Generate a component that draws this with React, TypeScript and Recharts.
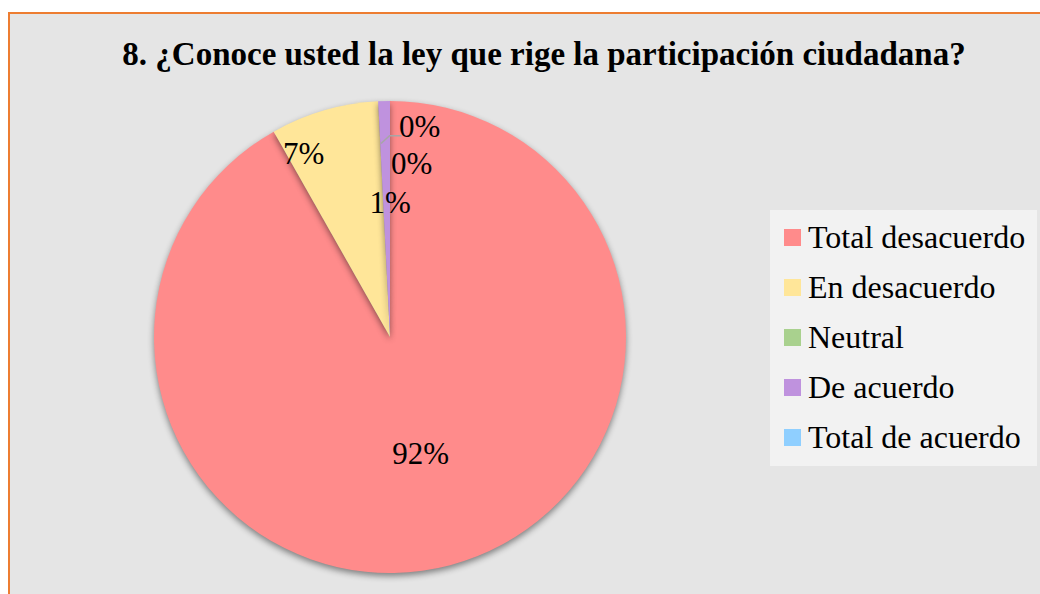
import React from "react";
import { PieChart, Pie, Cell, Legend } from "recharts";

const categories = ["Total desacuerdo", "En desacuerdo", "Neutral", "De acuerdo", "Total de acuerdo"];
const values = [91.8, 7.4, 0, 0.8, 0];
const colors = ["#ff8b8b", "#ffe699", "#a9d18e", "#bf92de", "#8fcfff"];
const title = "8. ¿Conoce usted la ley que rige la participación ciudadana?";

const data = categories.map((name, i) => ({ name, value: values[i] }));

// label placement: [radius factor, angle shift in degrees]
const labelPlace: [number, number][] = [
  [0.51, 0],
  [0.86, 9],
  [0.74, -10],
  [0.57, -1.5],
  [0.9, -8],
];

const RAD = Math.PI / 180;
const SERIF = "'Liberation Serif', 'Times New Roman', serif";

const renderLabel = (props: any) => {
  const { cx, cy, midAngle, outerRadius, percent, index } = props;
  const [f, shift] = labelPlace[index];
  const a = (midAngle + shift) * RAD;
  const r = outerRadius * f;
  const x = cx + r * Math.cos(a);
  const y = cy - r * Math.sin(a);
  const txt = `${Math.round(percent * 100)}%`;
  const els: any[] = [];
  if (index === 4) {
    const ea = midAngle * RAD;
    const ex = cx + outerRadius * 0.82 * Math.cos(ea) - 9;
    const ey = cy - outerRadius * 0.82 * Math.sin(ea);
    els.push(
      <polyline
        key="l"
        points={`${x - 18},${y + 9} ${x - 30},${y + 9} ${ex},${ey}`}
        fill="none"
        stroke="#a6a6a6"
        strokeWidth={1.5}
      />
    );
  }
  els.push(
    <text
      key="t"
      x={x}
      y={y}
      textAnchor="middle"
      dominantBaseline="central"
      fontFamily={SERIF}
      fontSize={31}
      fill="#000"
    >
      {txt}
    </text>
  );
  return <g>{els}</g>;
};

const renderLegend = () => (
  <div
    style={{
      background: "#f2f2f2",
      width: 267,
      height: 256,
      boxSizing: "border-box",
      paddingTop: 2,
      paddingLeft: 14,
      fontFamily: SERIF,
      fontSize: 32,
      color: "#000",
    }}
  >
    {categories.map((c, i) => (
      <div key={c} style={{ display: "flex", alignItems: "center", height: 50, whiteSpace: "nowrap" }}>
        <span style={{ display: "inline-block", width: 17, height: 17, background: colors[i], marginRight: 7 }} />
        <span>{c}</span>
      </div>
    ))}
  </div>
);

export default function App() {
  return (
    <div style={{ position: "absolute", left: 0, top: 0, width: 1040, height: 594, background: "#fff", overflow: "hidden" }}>
      <style>{`.recharts-pie-sector { filter: drop-shadow(0px 3px 3px rgba(0,0,0,0.45)); }`}</style>
      <div
        style={{
          position: "absolute",
          left: 8,
          top: 12,
          width: 1060,
          height: 620,
          background: "#e5e5e5",
          borderLeft: "2px solid #ed7d31",
          borderTop: "2px solid #ed7d31",
        }}
      />
      <div
        style={{
          position: "absolute",
          left: 0,
          top: 36,
          width: 1088,
          textAlign: "center",
          fontFamily: SERIF,
          fontWeight: "bold",
          fontSize: 33,
          color: "#000",
          whiteSpace: "nowrap",
        }}
      >
        {title}
      </div>
      <div style={{ position: "absolute", left: 0, top: 0 }}>
        <PieChart width={1040} height={594} margin={{ top: 0, right: 0, bottom: 0, left: 0 }}>
          <Pie
            data={data}
            dataKey="value"
            nameKey="name"
            cx={390}
            cy={337}
            outerRadius={236}
            startAngle={90}
            endAngle={-270}
            stroke="none"
            label={renderLabel}
            labelLine={false}
            isAnimationActive={false}
          >
            {data.map((d, i) => (
              <Cell key={d.name} fill={colors[i]} />
            ))}
          </Pie>
          <Legend
            layout="vertical"
            align="right"
            verticalAlign="top"
            content={renderLegend}
            wrapperStyle={{ left: 770, top: 210, width: 267, height: 256 }}
          />
        </PieChart>
      </div>
    </div>
  );
}
